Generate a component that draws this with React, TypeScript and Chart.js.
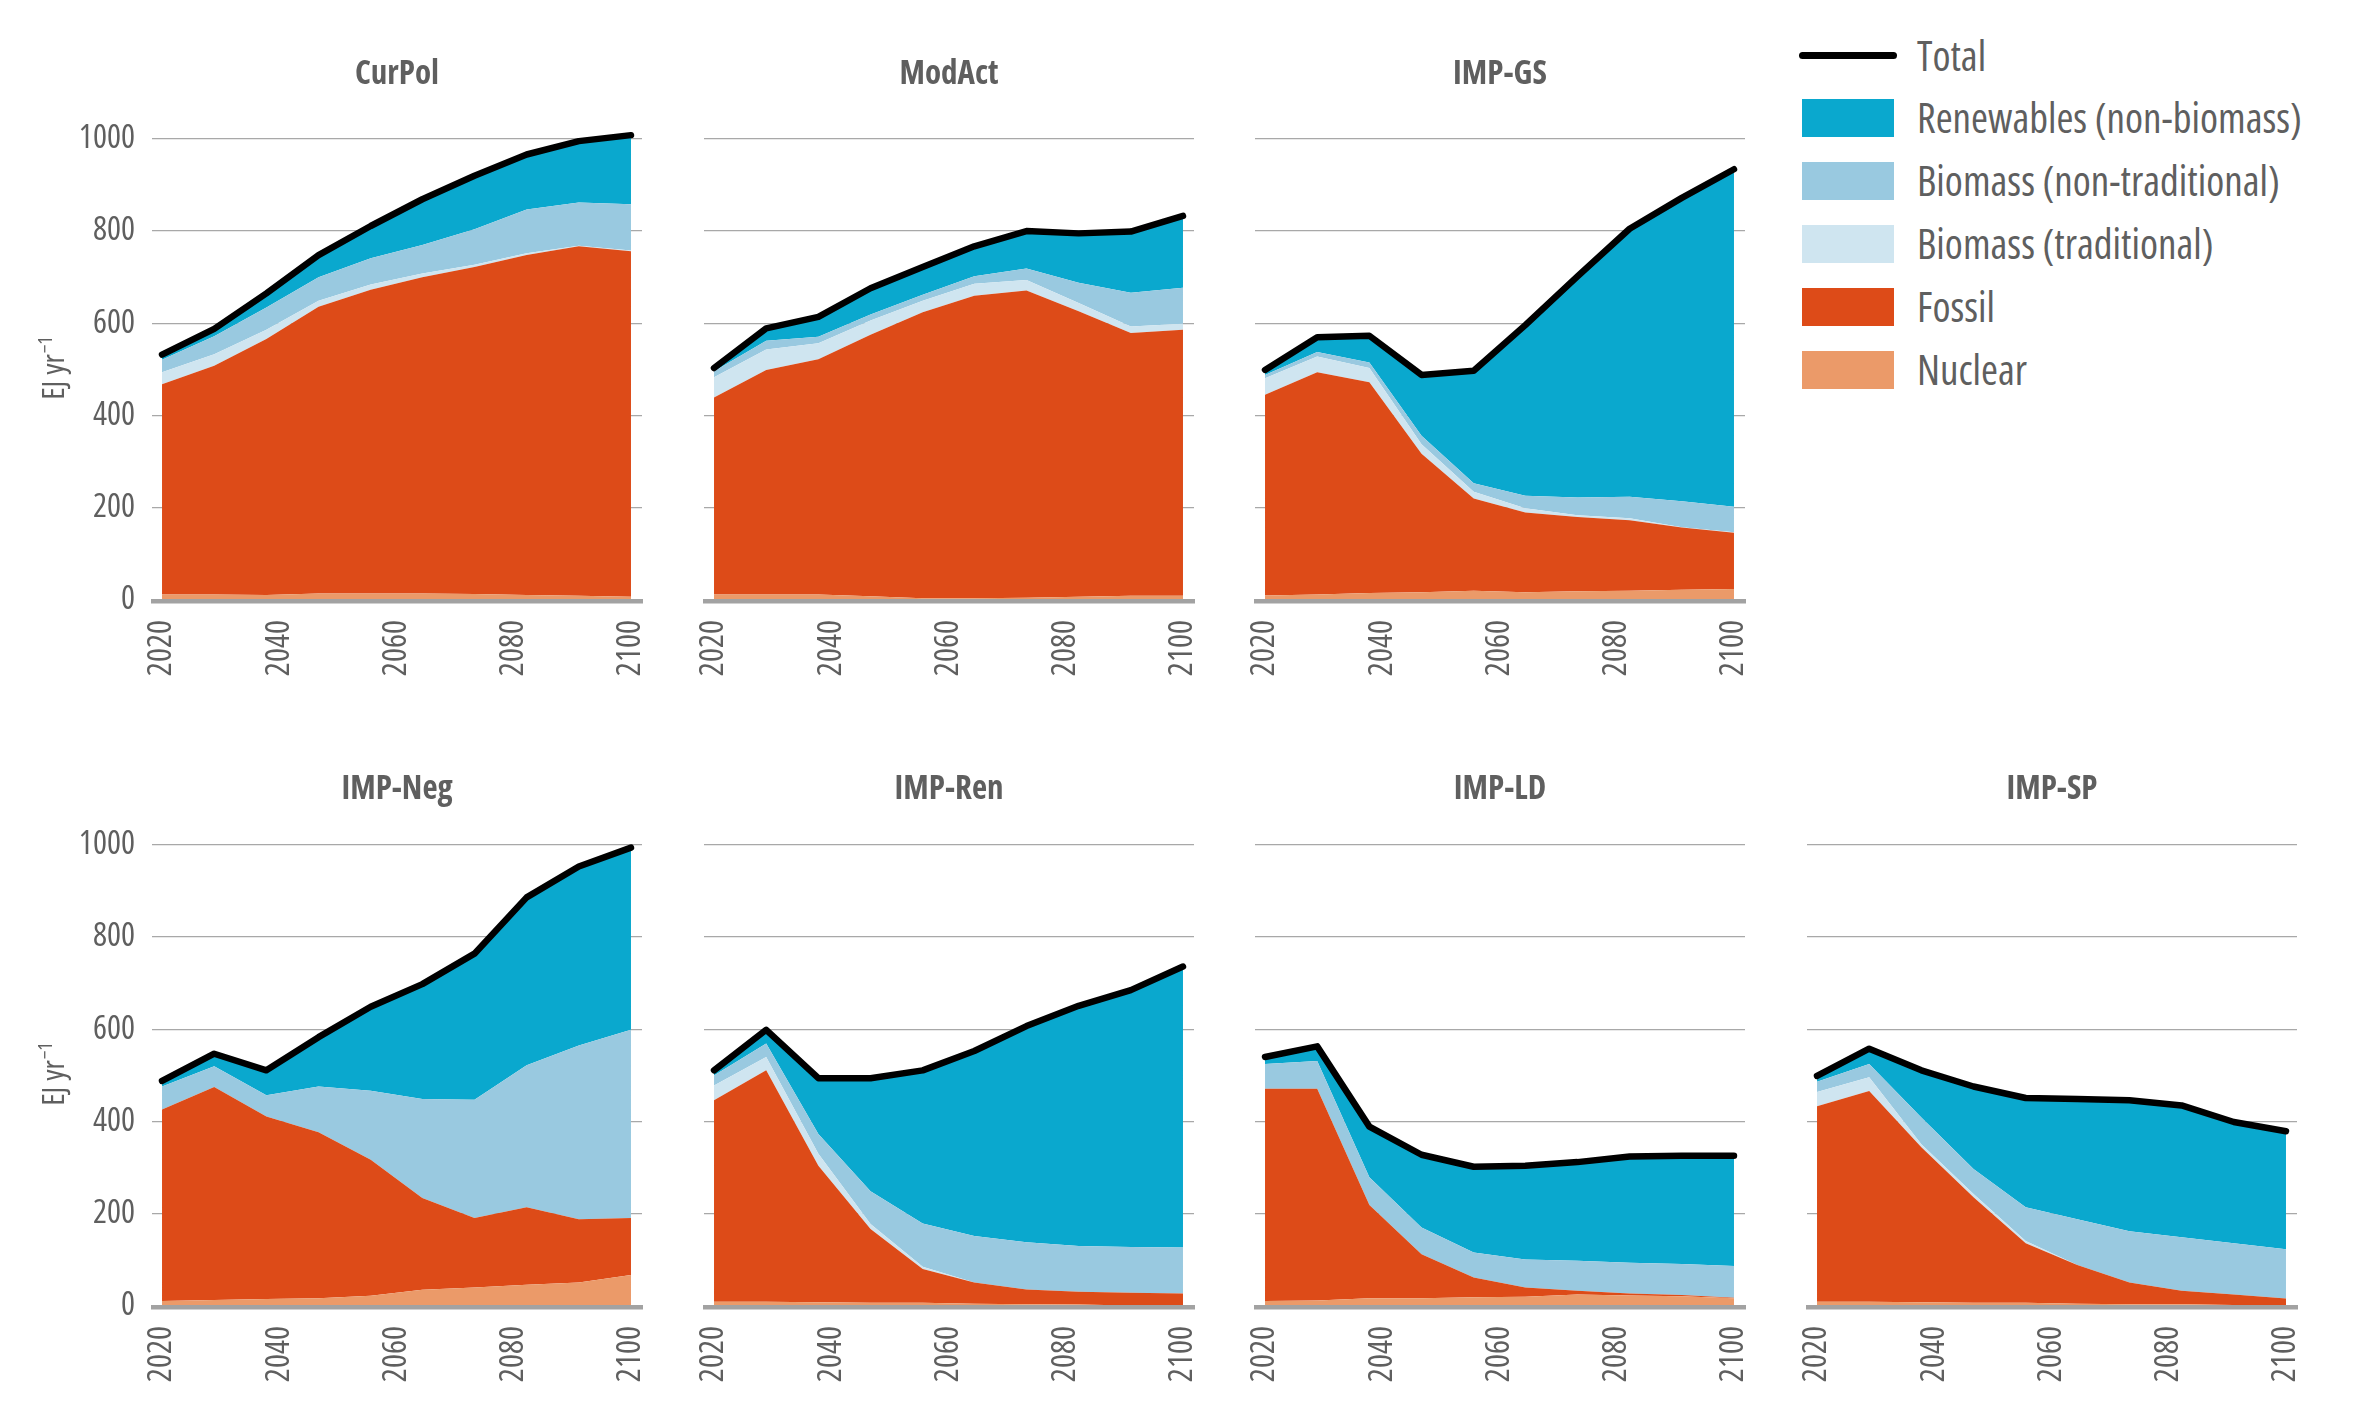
import React, { useEffect, useRef } from 'react';
import { Chart, registerables } from 'chart.js';

Chart.register(...registerables);

// ---------- data ----------
const YEARS = [2020, 2028.9, 2037.8, 2046.7, 2055.6, 2064.4, 2073.3, 2082.2, 2091.1, 2100];
const X_TICKS = [2020, 2040, 2060, 2080, 2100];
const Y_TICKS = [0, 200, 400, 600, 800, 1000];

const SERIES_NAMES = ['Nuclear', 'Fossil', 'Biomass (traditional)', 'Biomass (non-traditional)', 'Renewables (non-biomass)'];
const SERIES_COLORS = ['#eb9a69', '#dd4b18', '#cfe5f0', '#99c9e0', '#0aa8ce'];

const CURPOL_NUCLEAR = [12, 12, 11, 14, 14, 14, 13, 11, 9, 7];
const CURPOL_FOSSIL = [456, 496, 555, 622, 659, 686, 709, 737, 758, 749];
const CURPOL_BIOTRAD = [26, 25, 20, 13, 11, 8, 5, 4, 1, 2];
const CURPOL_BIONON = [27, 39, 48, 51, 57, 62, 77, 95, 94, 100];
const CURPOL_RENEW = [11, 16, 31, 48, 70, 99, 116, 119, 133, 150];
const CURPOL_TOTAL = [532, 588, 665, 748, 811, 869, 920, 966, 995, 1008];

const MODACT_NUCLEAR = [12, 12, 12, 8, 4, 4, 5, 7, 9, 9];
const MODACT_FOSSIL = [427, 487, 510, 567, 620, 656, 666, 619, 570, 577];
const MODACT_BIOTRAD = [44, 44, 35, 31, 25, 26, 23, 18, 14, 13];
const MODACT_BIONON = [13, 19, 14, 13, 13, 16, 25, 44, 73, 78];
const MODACT_RENEW = [7, 27, 43, 57, 60, 65, 81, 107, 133, 156];
const MODACT_TOTAL = [503, 589, 614, 676, 722, 767, 800, 795, 799, 833];

const GS_NUCLEAR = [10, 12, 15, 17, 20, 17, 19, 20, 22, 24];
const GS_FOSSIL = [435, 482, 457, 300, 200, 173, 161, 153, 135, 122];
const GS_BIOTRAD = [36, 34, 31, 21, 15, 9, 4, 4, 1, 1];
const GS_BIONON = [7, 10, 12, 18, 18, 27, 38, 47, 56, 55];
const GS_RENEW = [11, 32, 58, 132, 244, 370, 480, 581, 658, 732];
const GS_TOTAL = [499, 570, 573, 488, 497, 596, 702, 805, 872, 934];

const NEG_NUCLEAR = [11, 13, 15, 17, 22, 35, 40, 46, 51, 67];
const NEG_FOSSIL = [415, 462, 396, 360, 295, 199, 151, 168, 137, 124];
const NEG_BIOTRAD = [0, 0, 0, 0, 0, 0, 0, 0, 0, 0];
const NEG_BIONON = [50, 45, 46, 99, 150, 215, 256, 308, 377, 408];
const NEG_RENEW = [12, 27, 54, 107, 182, 249, 317, 364, 388, 395];
const NEG_TOTAL = [488, 547, 511, 583, 649, 698, 764, 886, 953, 994];

const REN_NUCLEAR = [9, 9, 8, 7, 7, 5, 4, 3, 1, 1];
const REN_FOSSIL = [437, 502, 296, 160, 73, 46, 32, 28, 28, 26];
const REN_BIOTRAD = [32, 29, 26, 11, 5, 0, 0, 0, 0, 0];
const REN_BIONON = [22, 29, 43, 71, 94, 101, 102, 99, 99, 100];
const REN_RENEW = [11, 30, 121, 245, 332, 401, 469, 521, 557, 609];
const REN_TOTAL = [511, 599, 494, 494, 511, 553, 607, 651, 685, 736];

const LD_NUCLEAR = [11, 12, 17, 17, 19, 20, 25, 23, 21, 17];
const LD_FOSSIL = [460, 459, 202, 95, 43, 20, 8, 4, 3, 1];
const LD_BIOTRAD = [0, 0, 0, 0, 0, 0, 0, 0, 0, 0];
const LD_BIONON = [54, 60, 60, 58, 54, 61, 65, 67, 67, 69];
const LD_RENEW = [15, 32, 110, 158, 186, 203, 214, 230, 235, 239];
const LD_TOTAL = [540, 563, 389, 328, 302, 304, 312, 324, 326, 326];

const SP_NUCLEAR = [9, 9, 8, 7, 7, 5, 4, 4, 2, 1];
const SP_FOSSIL = [424, 457, 336, 229, 129, 84, 47, 29, 23, 15];
const SP_BIOTRAD = [31, 30, 7, 7, 5, 0, 0, 0, 0, 0];
const SP_BIONON = [22, 29, 58, 54, 73, 99, 111, 116, 111, 107];
const SP_RENEW = [13, 33, 102, 179, 237, 261, 284, 286, 263, 256];
const SP_TOTAL = [499, 558, 511, 476, 451, 449, 446, 435, 399, 379];

type PanelCfg = {
  title: string;
  col: number;
  row: number;
  parts: number[][];
  total: number[];
};

const PANELS: PanelCfg[] = [
  { title: 'CurPol', col: 0, row: 0, parts: [CURPOL_NUCLEAR, CURPOL_FOSSIL, CURPOL_BIOTRAD, CURPOL_BIONON, CURPOL_RENEW], total: CURPOL_TOTAL },
  { title: 'ModAct', col: 1, row: 0, parts: [MODACT_NUCLEAR, MODACT_FOSSIL, MODACT_BIOTRAD, MODACT_BIONON, MODACT_RENEW], total: MODACT_TOTAL },
  { title: 'IMP-GS', col: 2, row: 0, parts: [GS_NUCLEAR, GS_FOSSIL, GS_BIOTRAD, GS_BIONON, GS_RENEW], total: GS_TOTAL },
  { title: 'IMP-Neg', col: 0, row: 1, parts: [NEG_NUCLEAR, NEG_FOSSIL, NEG_BIOTRAD, NEG_BIONON, NEG_RENEW], total: NEG_TOTAL },
  { title: 'IMP-Ren', col: 1, row: 1, parts: [REN_NUCLEAR, REN_FOSSIL, REN_BIOTRAD, REN_BIONON, REN_RENEW], total: REN_TOTAL },
  { title: 'IMP-LD', col: 2, row: 1, parts: [LD_NUCLEAR, LD_FOSSIL, LD_BIOTRAD, LD_BIONON, LD_RENEW], total: LD_TOTAL },
  { title: 'IMP-SP', col: 3, row: 1, parts: [SP_NUCLEAR, SP_FOSSIL, SP_BIOTRAD, SP_BIONON, SP_RENEW], total: SP_TOTAL },
];

const LEGEND_ITEMS = [
  { label: 'Total', color: '#000000', line: true },
  { label: 'Renewables (non-biomass)', color: '#0aa8ce', line: false },
  { label: 'Biomass (non-traditional)', color: '#99c9e0', line: false },
  { label: 'Biomass (traditional)', color: '#cfe5f0', line: false },
  { label: 'Fossil', color: '#dd4b18', line: false },
  { label: 'Nuclear', color: '#eb9a69', line: false },
];

// ---------- layout / style ----------
const FAMILY = "'Open Sans', 'DejaVu Sans Condensed', sans-serif";
const TEXT = '#5f5f5f';
const CANVAS_W = 620;
const CANVAS_H = 700;
const COL_LEFTS = [32, 584, 1135, 1687];
const ROW_TOPS = [0, 706];
const TITLE_BASELINES = [83.5, 93.3];

const extrasPlugin = {
  id: 'extras',
  afterDatasetsDraw(chart: any) {
    const { ctx, chartArea } = chart;
    const y0 = chart.scales.y.getPixelForValue(0);
    ctx.save();
    ctx.fillStyle = '#a2a2a2';
    ctx.fillRect(chartArea.left - 1, y0 - 1, chartArea.right - chartArea.left + 2, 4.5);
    ctx.restore();
  },
  afterDraw(chart: any, _args: any, opts: any) {
    const { ctx, chartArea } = chart;
    ctx.save();
    ctx.fillStyle = TEXT;
    ctx.font = `bold condensed 33px ${FAMILY}`;
    ctx.textAlign = 'center';
    ctx.textBaseline = 'alphabetic';
    ctx.fillText(opts.title, (chartArea.left + chartArea.right) / 2, opts.titleBaseline);
    if (opts.yLabel) {
      const cy = (chartArea.top + chartArea.bottom) / 2 + 6;
      ctx.translate(32, cy);
      ctx.rotate(-Math.PI / 2);
      ctx.textAlign = 'left';
      const mainFont = `condensed 31px ${FAMILY}`;
      const supFont = `condensed 20px ${FAMILY}`;
      const main = 'EJ yr';
      const sup = '\u22121';
      ctx.font = mainFont;
      const w1 = ctx.measureText(main).width;
      ctx.font = supFont;
      const w2 = ctx.measureText(sup).width;
      const start = -(w1 + w2) / 2;
      ctx.font = mainFont;
      ctx.fillText(main, start, 0);
      ctx.font = supFont;
      ctx.fillText(sup, start + w1 + 1, -12);
    }
    ctx.restore();
  },
};

function Panel({ cfg }: { cfg: PanelCfg }) {
  const ref = useRef<HTMLCanvasElement>(null);
  useEffect(() => {
    if (!ref.current) return;
    const datasets: any[] = cfg.parts.map((arr, k) => ({
      label: SERIES_NAMES[k],
      data: arr.map((v, i) => ({ x: YEARS[i], y: v })),
      backgroundColor: SERIES_COLORS[k],
      borderColor: 'rgba(0,0,0,0)',
      borderWidth: 0,
      pointRadius: 0,
      pointHoverRadius: 0,
      fill: k === 0 ? 'origin' : '-1',
      stack: 'parts',
      tension: 0,
      order: 1,
    }));
    datasets.push({
      label: 'Total',
      data: cfg.total.map((v, i) => ({ x: YEARS[i], y: v })),
      borderColor: '#000000',
      backgroundColor: 'rgba(0,0,0,0)',
      borderWidth: 6.5,
      borderCapStyle: 'round',
      borderJoinStyle: 'round',
      pointRadius: 0,
      pointHoverRadius: 0,
      fill: false,
      stack: 'total',
      tension: 0,
      order: 0,
    });
    const tickFont = { family: FAMILY, size: 33, weight: 'condensed' } as any;
    const chart = new Chart(ref.current, {
      type: 'line',
      data: { datasets },
      plugins: [extrasPlugin as any],
      options: {
        responsive: false,
        animation: false,
        events: [],
        layout: { padding: { top: 125, left: 0, right: 10, bottom: 0 } },
        plugins: {
          legend: { display: false },
          tooltip: { enabled: false },
          title: { display: false },
          extras: { title: cfg.title, titleBaseline: TITLE_BASELINES[cfg.row], yLabel: cfg.col === 0 },
        } as any,
        scales: {
          x: {
            type: 'linear',
            min: 2018.29,
            max: 2101.88,
            grid: { display: false, drawTicks: false },
            border: { display: false },
            afterBuildTicks: (s: any) => {
              s.ticks = X_TICKS.map((v) => ({ value: v }));
            },
            afterFit: (s: any) => {
              s.height = 100;
              s.paddingLeft = 0;
              s.paddingRight = 0;
            },
            ticks: {
              autoSkip: false,
              minRotation: 90,
              maxRotation: 90,
              padding: 20,
              color: TEXT,
              font: tickFont,
              callback: (v: any) => String(v),
            },
          },
          y: {
            stacked: true,
            min: 0,
            max: 1030,
            afterBuildTicks: (s: any) => {
              s.ticks = Y_TICKS.map((v) => ({ value: v }));
            },
            afterFit: (s: any) => {
              s.width = 120;
              s.paddingTop = 0;
              s.paddingBottom = 0;
            },
            grid: { color: '#a8a8a8', lineWidth: 1.3, drawTicks: false },
            border: { display: false },
            ticks: {
              display: cfg.col === 0,
              padding: 17,
              color: TEXT,
              font: tickFont,
              callback: (v: any) => String(v),
            },
          },
        },
      } as any,
    });
    return () => chart.destroy();
  }, [cfg]);
  return (
    <canvas
      ref={ref}
      width={CANVAS_W}
      height={CANVAS_H}
      style={{ position: 'absolute', left: COL_LEFTS[cfg.col], top: ROW_TOPS[cfg.row], width: CANVAS_W, height: CANVAS_H }}
    />
  );
}

function Legend() {
  const rowY = [55.7, 118, 181, 244, 307, 370];
  return (
    <>
      {LEGEND_ITEMS.map((it, i) => (
        <div key={it.label}>
          {it.line ? (
            <div
              style={{
                position: 'absolute',
                left: 1799,
                top: rowY[i] - 3.5,
                width: 98,
                height: 7,
                borderRadius: 3.5,
                background: it.color,
              }}
            />
          ) : (
            <div
              style={{
                position: 'absolute',
                left: 1802,
                top: rowY[i] - 19.3,
                width: 92,
                height: 38.6,
                background: it.color,
              }}
            />
          )}
          <div
            style={{
              position: 'absolute',
              left: 1917,
              top: rowY[i] - 28,
              height: 54,
              lineHeight: '54px',
              fontFamily: FAMILY,
              fontStretch: 'condensed',
              fontSize: 41,
              color: TEXT,
              whiteSpace: 'nowrap',
            }}
          >
            {it.label}
          </div>
        </div>
      ))}
    </>
  );
}

export default function App() {
  return (
    <div
      style={{
        position: 'absolute',
        left: 0,
        top: 0,
        width: 2355,
        height: 1423,
        background: '#ffffff',
        overflow: 'hidden',
      }}
    >
      {PANELS.map((p) => (
        <Panel key={p.title} cfg={p} />
      ))}
      <Legend />
    </div>
  );
}
